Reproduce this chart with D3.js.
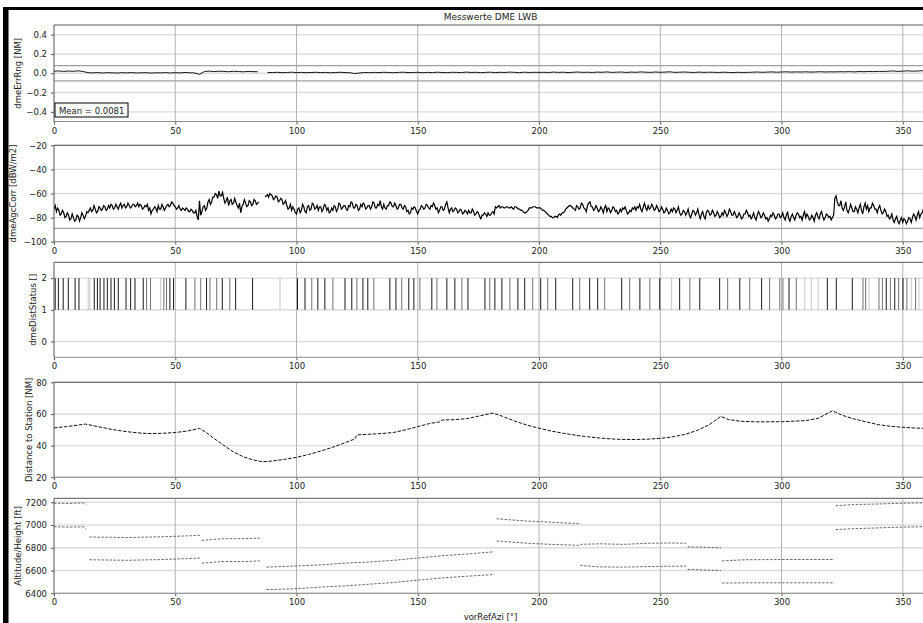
<!DOCTYPE html>
<html>
<head>
<meta charset="utf-8">
<script src="https://cdn.jsdelivr.net/npm/d3@7"></script>
<style>
    body { margin: 0; background: #fff; }
    svg text { font-family: "DejaVu Sans", sans-serif; fill: #222; }
</style>
</head>
<body>
<svg id="chart" width="923" height="623"></svg>
<script>
/*
 * Data
 * */

var chartTitle = 'Messwerte DME LWB',
    xLabel = 'vorRefAzi [\u00b0]',
    xTicks = [0, 50, 100, 150, 200, 250, 300, 350];

// dmeErrRng [NM], one sample every 2 deg, null = no data
var errStep = 2;
var errRng = [
    0.021, 0.024, 0.019, 0.023, 0.020, 0.025, 0.018,
    0.006, 0.004, 0.007, 0.003, 0.006, 0.005, 0.002, 0.006, 0.004, 0.007, 0.003, 0.005,
    0.006, 0.002, 0.005, 0.004, 0.007, 0.003, 0.006, 0.004, 0.008, 0.005, 0.003,
    -0.012,
    0.018, 0.022, 0.017, 0.021, 0.019, 0.016, 0.020, 0.018, 0.015, 0.019, 0.017, 0.016,
    null,
    0.009, 0.007, 0.010, 0.006, 0.008, 0.011, 0.007, 0.009, 0.006, 0.008, 0.010, 0.007,
    0.009, 0.005, 0.008, 0.010, 0.007,
    0.006, -0.004, 0.003, 0.008, 0.006,
    0.009, 0.007, 0.010, 0.008, 0.006, 0.009, 0.011, 0.007, 0.008, 0.010, 0.006, 0.009,
    0.007, 0.011, 0.008, 0.006, 0.010, 0.009, 0.007, 0.012, 0.008, 0.010, 0.006, 0.009,
    0.011, 0.007, 0.010, 0.008, 0.012, 0.009, 0.007, 0.011, 0.008, 0.010, 0.009,
    0.010, 0.008, 0.012, 0.009, 0.011, 0.007, 0.010, 0.013, 0.009, 0.011, 0.008, 0.012,
    0.010, 0.014, 0.009, 0.011, 0.013, 0.008, 0.012, 0.010, 0.014, 0.011, 0.009, 0.013,
    0.010, 0.012, 0.015, 0.009, 0.011, 0.013, 0.010, 0.008, 0.012, 0.009, 0.011,
    0.010, 0.008, 0.011, 0.009, 0.007, 0.010, 0.008, 0.009, 0.011, 0.013, 0.010, 0.012,
    0.014, 0.011, 0.013, 0.015, 0.012, 0.014, 0.013, 0.015, 0.012, 0.014, 0.016, 0.013, 0.015,
    0.014, 0.016, 0.015, 0.017, 0.014, 0.018, 0.016, 0.019, 0.017, 0.020,
    0.018, 0.021, 0.024, 0.019, 0.022, 0.025, 0.021, 0.023, 0.026, 0.022
];
var errMean = 0.0081,
    errLimits = [-0.08, 0.08];

// dmeAgcCorr [dBW/m2], one sample every 0.5 deg (0..360), 10 deg per row
var agcStep = 0.5;
var agcCorr = [
    -73, -70, -75, -72, -74, -78, -77, -74, -76, -80, -79, -76, -78, -82, -81, -77, -80, -83, -82, -78,
    -79, -83, -80, -76, -78, -81, -79, -75, -76, -74, -72, -75, -74, -70, -73, -76, -75, -71, -72, -74,
    -73, -70, -71, -74, -73, -70, -72, -69, -70, -73, -72, -69, -71, -73, -70, -68, -72, -70, -69, -72,
    -71, -68, -70, -72, -71, -69, -69, -71, -70, -68, -71, -69, -70, -73, -72, -70, -71, -69, -74, -72,
    -77, -74, -73, -71, -72, -75, -70, -73, -73, -69, -71, -74, -72, -70, -69, -71, -70, -67, -68, -70,
    -71, -73, -72, -70, -73, -74, -72, -73, -74, -72, -73, -75, -75, -73, -74, -76, -76, -74, -79, -82,
    -66, -78, -75, -71, -70, -74, -72, -67, -65, -69, -67, -63, -63, -60, -61, -64, -58, -62, -62, -59,
    -64, -68, -66, -63, -70, -66, -65, -69, -68, -64, -67, -70, -72, -68, -76, -71, -69, -65, -68, -71,
    -70, -66, -67, -70, -69, -65, -66, -69, -68, -67, null, null, null, null, -63, -62, -61, -63, -60, -61,
    -62, -65, -64, -62, -63, -67, -66, -64, -65, -69, -68, -66, -70, -73, -72, -69, -74, -71, -73, -76,
    -77, -73, -72, -76, -74, -69, -71, -75, -76, -71, -70, -74, -73, -68, -69, -73, -72, -70, -74, -71,
    -71, -75, -73, -69, -70, -74, -72, -76, -75, -72, -74, -70, -71, -75, -73, -68, -69, -73, -72, -70,
    -70, -73, -74, -70, -71, -67, -68, -72, -72, -69, -70, -74, -73, -69, -71, -68, -69, -73, -72, -70,
    -70, -73, -71, -67, -68, -72, -72, -69, -70, -66, -71, -73, -69, -72, -73, -70, -70, -67, -68, -71,
    -71, -68, -70, -73, -72, -69, -69, -72, -73, -70, -71, -75, -74, -77, -76, -72, -73, -71, -72, -75,
    -77, -74, -73, -70, -71, -73, -72, -69, -70, -72, -73, -70, -71, -68, -70, -73, -72, -76, -74, -71,
    -71, -74, -73, -69, -67, -72, -76, -73, -72, -75, -74, -72, -73, -76, -75, -73, -74, -77, -76, -74,
    -75, -77, -74, -76, -76, -73, -75, -78, -77, -75, -76, -79, -81, -78, -78, -76, -77, -79, -76, -78,
    -78, -76, -75, -77, -71, -72, -71, -70, -72, -71, -71, -72, -72, -71, -71, -72, -72, -71, -72, -73,
    -71, -71, -72, -73, -73, -74, -74, -75, -76, -76, -75, -74, -72, -72, -72, -71, -71, -71, -72, -72,
    -72, -72, -73, -74, -74, -75, -76, -77, -78, -79, -79, -80, -80, -79, -79, -80, -78, -77, -78, -76,
    -76, -75, -73, -72, -71, -70, -70, -71, -72, -73, -74, -70, -71, -73, -72, -68, -69, -72, -73, -75,
    -70, -68, -67, -71, -71, -74, -73, -70, -72, -75, -74, -71, -73, -76, -72, -70, -75, -72, -73, -76,
    -74, -71, -72, -75, -74, -77, -76, -73, -75, -72, -73, -71, -74, -77, -76, -74, -75, -72, -73, -71,
    -74, -71, -72, -69, -73, -75, -71, -68, -72, -74, -70, -73, -72, -69, -71, -74, -73, -70, -72, -75,
    -74, -71, -73, -76, -75, -72, -74, -77, -76, -73, -75, -72, -73, -76, -74, -71, -76, -78, -77, -74,
    -75, -78, -76, -73, -78, -80, -77, -74, -75, -78, -76, -73, -78, -81, -77, -75, -79, -81, -76, -74,
    -75, -78, -77, -74, -76, -79, -78, -75, -77, -80, -79, -76, -78, -74, -76, -79, -77, -73, -75, -78,
    -78, -75, -77, -80, -79, -76, -78, -81, -80, -77, -77, -74, -76, -79, -78, -81, -79, -76, -80, -82,
    -78, -75, -77, -80, -79, -76, -78, -81, -80, -83, -81, -78, -79, -76, -78, -81, -80, -77, -77, -80,
    -79, -76, -80, -82, -78, -75, -81, -83, -79, -77, -80, -82, -78, -76, -77, -80, -79, -82, -78, -75,
    -80, -77, -79, -82, -81, -78, -80, -83, -78, -76, -79, -81, -77, -75, -79, -82, -80, -77, -78, -80,
    -79, -82, -80, -78, -64, -62, -67, -70, -70, -66, -72, -74, -71, -67, -74, -76, -73, -69, -72, -75,
    -75, -71, -73, -76, -72, -69, -74, -77, -71, -68, -73, -70, -75, -72, -72, -68, -70, -73, -73, -76,
    -72, -70, -74, -77, -76, -73, -75, -79, -78, -81, -80, -77, -82, -84, -81, -79, -83, -85, -82, -80,
    -84, -81, -82, -85, -83, -80, -81, -84, -80, -77, -79, -82, -78, -75, -80, -77, -76, -73, -72, -74,
    -71
];
var agcLimit = -89;

// dmeDistStatus: azimuths where the status toggles 1 <-> 2, and how often
var statusDeg = [
    0.5, 1.8, 3.8, 5.9, 8.7, 10.3, 14.1, 14.8, 16.6, 17.9, 19.0, 20.6, 22.0, 23.5, 24.9, 26.5,
    29.7, 31.6, 33.4, 36.8, 38.2, 39.8, 44.0, 45.3, 46.4, 47.8, 49.3, 54.4, 58.1, 60.5, 62.9,
    64.3, 67.1, 69.4, 72.5, 74.9, 81.9, 93.2, 100.4,
    103.5, 106.3, 108.8, 111.7, 115.0, 120.0, 122.8, 124.9, 127.4, 129.4, 131.9, 138.5, 141.0,
    143.4, 146.3, 148.4, 150.9, 155.8, 157.9, 162.0, 165.3, 168.2, 170.7, 177.7, 179.7, 181.8,
    184.7, 188.0, 191.3, 194.1, 197.4, 200.7, 203.6, 206.9, 213.9, 216.8, 220.9, 224.2, 227.1,
    234.1, 237.4, 241.6, 245.7, 249.8, 254.7, 258.0, 262.2, 266.3, 274.5, 277.8, 282.8, 286.9,
    291.8, 295.1, 299.3, 300.6, 303.1, 306.1, 309.6, 312.3, 315.1, 318.9, 322.6, 329.2, 333.6,
    334.7, 336.1, 340.2, 341.6, 343.2, 344.9, 346.7, 348.3, 350.1, 351.7, 353.5, 355.3, 356.7
];
var statusCount = [
    3, 3, 3, 3, 3, 3, 1, 1, 3, 3, 3, 3, 3, 3, 3, 3,
    3, 3, 3, 3, 2, 2, 1, 2, 2, 3, 3, 3, 2, 2, 3,
    2, 2, 3, 2, 3, 3, 1, 3,
    3, 2, 3, 3, 2, 3, 3, 2, 3, 3, 2, 3, 3,
    2, 3, 3, 2, 3, 2, 3, 3, 2, 3, 3, 2, 3,
    3, 2, 3, 3, 2, 3, 2, 3, 3, 2, 3, 3, 2,
    3, 2, 3, 2, 3, 1, 3, 2, 3, 3, 2, 3, 2,
    3, 2, 2, 2, 3, 2, 1, 1, 1, 3, 3, 3, 2,
    2, 1, 2, 2, 3, 2, 3, 2, 3, 2, 1, 2, 1
];
var statusLow = 1, statusHigh = 2;

// Distance to Station [NM]
var distDeg = [
    0, 5, 10, 13, 18, 24, 30, 36, 40, 45, 50, 55, 60, 63, 66, 70, 74, 78, 82, 86, 90, 95,
    100, 105, 110, 115, 120, 124, 125, 130, 135, 140, 145, 150, 155, 159, 160, 165, 170, 175,
    181, 185, 190, 195, 200, 205, 210, 215, 220, 225, 230, 235, 240, 245, 250, 255, 260, 265,
    270, 275, 278, 283, 290, 300, 310, 315, 321, 325, 330, 335, 340, 345, 350, 355, 360
];
var distNM = [
    51.2, 52.0, 53.0, 53.6, 52.0, 50.2, 48.8, 47.9, 47.6, 47.8, 48.3, 49.2, 50.9, 48.0, 44.5,
    40.2, 36.0, 33.0, 31.0, 29.8, 30.3, 31.3, 32.6, 34.4, 36.6, 39.0, 41.8, 44.2, 46.8, 47.2,
    47.6, 48.3, 50.0, 52.0, 54.0, 55.0, 56.2, 56.4, 57.0, 58.6, 60.6, 58.5, 55.5, 53.0, 51.0,
    49.2, 47.8, 46.6, 45.6, 44.8, 44.2, 43.9, 43.9, 44.1, 44.6, 45.5, 47.0, 49.5, 53.0, 58.5,
    56.5, 55.4, 55.0, 55.1, 55.8, 57.2, 62.0, 59.2, 56.8, 55.0, 53.2, 52.2, 51.6, 51.1, 50.9
];

// Altitude / Height [ft], null = break between flight legs
var altDeg = [
    0, 6, 12, 13.3, null,
    14.6, 30, 45, 55, 60.2, null,
    60.9, 70, 78, 84.9, null,
    87.6, 100, 110, 120, 130, 140, 150, 160, 170, 181.5, null,
    182.5, 195, 205, 216.4, null,
    217, 225, 235, 245, 255, 260.7, null,
    261.3, 268, 275, null,
    275.5, 285, 300, 321.5, null,
    322.3, 330, 340, 350, 360
];
var altitude = [
    7192, 7190, 7195, 7180, null,
    6895, 6890, 6897, 6905, 6910, null,
    6865, 6880, 6880, 6885, null,
    6630, 6640, 6650, 6665, 6675, 6690, 6710, 6730, 6745, 6765, null,
    7055, 7035, 7025, 7012, null,
    6830, 6835, 6830, 6840, 6842, 6840, null,
    6808, 6805, 6800, null,
    6685, 6695, 6697, 6697, null,
    7170, 7180, 7185, 7192, 7195
];
var height = [
    6985, 6982, 6985, 6965, null,
    6695, 6690, 6697, 6705, 6710, null,
    6665, 6680, 6678, 6685, null,
    6432, 6440, 6455, 6465, 6480, 6495, 6515, 6535, 6550, 6565, null,
    6860, 6840, 6830, 6822, null,
    6645, 6632, 6630, 6635, 6638, 6640, null,
    6610, 6605, 6600, null,
    6490, 6492, 6492, 6492, null,
    6960, 6968, 6975, 6982, 6985
];


/*
 * Layout
 * */

var svg = d3.select('#chart'),
    plotLeft = 54,
    plotRight = 927,
    gridColour = '#dcdcdc',
    vGridColour = '#b4b4b4',
    limitColour = '#a0a0a0',
    frameColour = '#555';

var x = d3.scaleLinear().domain([0, 360]).range([plotLeft, plotRight]);

var panels = [
    { top: 25,    bottom: 121.5, domain: [-0.5, 0.5], ticks: [-0.4, -0.2, 0, 0.2, 0.4], fmt: d3.format('.1f'), label: 'dmeErrRng [NM]', labelX: 18 },
    { top: 145.3, bottom: 241.7, domain: [-100, -20], ticks: [-100, -80, -60, -40, -20], fmt: d3.format('d'), label: 'dmeAgcCorr [dBW/m2]', labelX: 13.5 },
    { top: 262.3, bottom: 357.3, domain: [-0.5, 2.5], ticks: [0, 1, 2], fmt: d3.format('d'), label: 'dmeDistStatus []', labelX: 33 },
    { top: 382.3, bottom: 477.3, domain: [20, 80], ticks: [20, 40, 60, 80], fmt: d3.format('d'), label: 'Distance to Station [NM]', labelX: 29 },
    { top: 498.3, bottom: 593.3, domain: [6400, 7235], ticks: [6400, 6600, 6800, 7000, 7200], fmt: d3.format('d'), label: 'Altitude/Height [ft]', labelX: 18 }
];


/*
 * Panel frame, grid and axes
 * */

function drawPanel(p, i) {
    var y = d3.scaleLinear().domain(p.domain).range([p.bottom, p.top]);
    var g = svg.append('g').attr('class', 'panel panel-' + i);

    g.append('clipPath').attr('id', 'clip' + i)
        .append('rect')
        .attr('x', plotLeft).attr('y', p.top)
        .attr('width', plotRight - plotLeft).attr('height', p.bottom - p.top);

    // horizontal grid
    g.append('g').selectAll('line').data(p.ticks).join('line')
        .attr('x1', plotLeft).attr('x2', plotRight)
        .attr('y1', function (d) { return y(d); })
        .attr('y2', function (d) { return y(d); })
        .attr('stroke', gridColour).attr('stroke-width', 1.4);

    // vertical grid
    g.append('g').selectAll('line').data(xTicks.slice(1)).join('line')
        .attr('x1', function (d) { return x(d); })
        .attr('x2', function (d) { return x(d); })
        .attr('y1', p.top).attr('y2', p.bottom)
        .attr('stroke', vGridColour).attr('stroke-width', 1);

    var plot = g.append('g').attr('clip-path', 'url(#clip' + i + ')');

    // axes
    var yAxis = g.append('g')
        .attr('transform', 'translate(' + plotLeft + ',0)')
        .call(d3.axisLeft(y).tickValues(p.ticks).tickFormat(p.fmt).tickSize(3).tickPadding(4));
    yAxis.select('.domain').remove();
    yAxis.selectAll('.tick line').attr('stroke', frameColour);
    yAxis.selectAll('text').attr('font-size', '8.5px').attr('fill', '#222');

    var xAxis = g.append('g')
        .attr('transform', 'translate(0,' + p.bottom + ')')
        .call(d3.axisBottom(x).tickValues(xTicks).tickFormat(d3.format('d')).tickSize(3).tickPadding(3));
    xAxis.select('.domain').remove();
    xAxis.selectAll('.tick line').attr('stroke', frameColour);
    xAxis.selectAll('text').attr('font-size', '8.5px').attr('fill', '#222');

    // frame
    g.append('line').attr('x1', plotLeft).attr('x2', plotRight)
        .attr('y1', p.top).attr('y2', p.top)
        .attr('stroke', frameColour).attr('stroke-width', 1);
    g.append('line').attr('x1', plotLeft).attr('x2', plotRight)
        .attr('y1', p.bottom).attr('y2', p.bottom)
        .attr('stroke', '#8a8a8a').attr('stroke-width', 1);
    g.append('line').attr('x1', plotLeft).attr('x2', plotLeft)
        .attr('y1', p.top).attr('y2', p.bottom)
        .attr('stroke', frameColour).attr('stroke-width', 1);

    // y label
    g.append('text')
        .attr('transform', 'translate(' + p.labelX + ',' + ((p.top + p.bottom) / 2) + ') rotate(-90)')
        .attr('text-anchor', 'middle')
        .attr('dy', '0.35em')
        .attr('font-size', '8.5px')
        .text(p.label);

    return { y: y, plot: plot, g: g };
}

function hLine(panel, value, colour) {
    panel.plot.append('line')
        .attr('x1', plotLeft).attr('x2', plotRight)
        .attr('y1', panel.y(value)).attr('y2', panel.y(value))
        .attr('stroke', colour).attr('stroke-width', 1.2);
}


/*
 * Draw
 * */

var p = panels.map(drawPanel);

// panel 1: range error
errLimits.forEach(function (v) { hLine(p[0], v, limitColour); });
p[0].plot.append('path')
    .datum(errRng)
    .attr('fill', 'none')
    .attr('stroke', '#000')
    .attr('stroke-width', 0.9)
    .attr('d', d3.line()
        .defined(function (d) { return d !== null; })
        .x(function (d, i) { return x(i * errStep); })
        .y(function (d) { return p[0].y(d); }));

var meanBox = p[0].g.append('g').attr('transform', 'translate(55,103)');
meanBox.append('rect')
    .attr('width', 73).attr('height', 14)
    .attr('fill', '#fff').attr('stroke', '#000').attr('stroke-width', 1);
meanBox.append('text')
    .attr('x', 4).attr('y', 10.5)
    .attr('font-size', '8.5px')
    .text('Mean = ' + errMean);

// panel 2: AGC
hLine(p[1], agcLimit, limitColour);
p[1].plot.append('path')
    .datum(agcCorr)
    .attr('fill', 'none')
    .attr('stroke', '#000')
    .attr('stroke-width', 1.2)
    .attr('d', d3.line()
        .defined(function (d) { return d !== null; })
        .x(function (d, i) { return x(i * agcStep); })
        .y(function (d) { return p[1].y(d); }));

// panel 3: status toggles
var countOpacity = d3.scaleLinear().domain([1, 3]).range([0.22, 0.9]);
p[2].plot.append('g').selectAll('line')
    .data(statusDeg).join('line')
    .attr('x1', function (d) { return x(d); })
    .attr('x2', function (d) { return x(d); })
    .attr('y1', p[2].y(statusLow))
    .attr('y2', p[2].y(statusHigh))
    .attr('stroke', '#000')
    .attr('stroke-width', 1)
    .attr('stroke-opacity', function (d, i) { return countOpacity(statusCount[i]); });

// panel 4: distance
p[3].plot.append('path')
    .datum(distDeg.map(function (d, i) { return [d, distNM[i]]; }))
    .attr('fill', 'none')
    .attr('stroke', '#111')
    .attr('stroke-width', 1)
    .attr('stroke-dasharray', '3.5,1.5')
    .attr('d', d3.line()
        .x(function (d) { return x(d[0]); })
        .y(function (d) { return p[3].y(d[1]); }));

// panel 5: altitude and height
[altitude, height].forEach(function (series) {
    p[4].plot.append('path')
        .datum(altDeg.map(function (d, i) { return [d, series[i]]; }))
        .attr('fill', 'none')
        .attr('stroke', '#444')
        .attr('stroke-width', 0.8)
        .attr('stroke-dasharray', '2.5,1.5')
        .attr('d', d3.line()
            .defined(function (d) { return d[0] !== null && d[1] !== null; })
            .x(function (d) { return x(d[0]); })
            .y(function (d) { return p[4].y(d[1]); }));
});

// title, x label and outer frame
var centreX = (plotLeft + plotRight) / 2;
svg.append('text')
    .attr('x', centreX).attr('y', 19.5)
    .attr('text-anchor', 'middle')
    .attr('font-size', '9px')
    .text(chartTitle);
svg.append('text')
    .attr('x', centreX).attr('y', 620)
    .attr('text-anchor', 'middle')
    .attr('font-size', '8.5px')
    .text(xLabel);

svg.append('rect').attr('x', 3).attr('y', 7).attr('width', 920).attr('height', 3).attr('fill', '#000');
svg.append('rect').attr('x', 3).attr('y', 7).attr('width', 5.5).attr('height', 616).attr('fill', '#000');
</script>
</body>
</html>
